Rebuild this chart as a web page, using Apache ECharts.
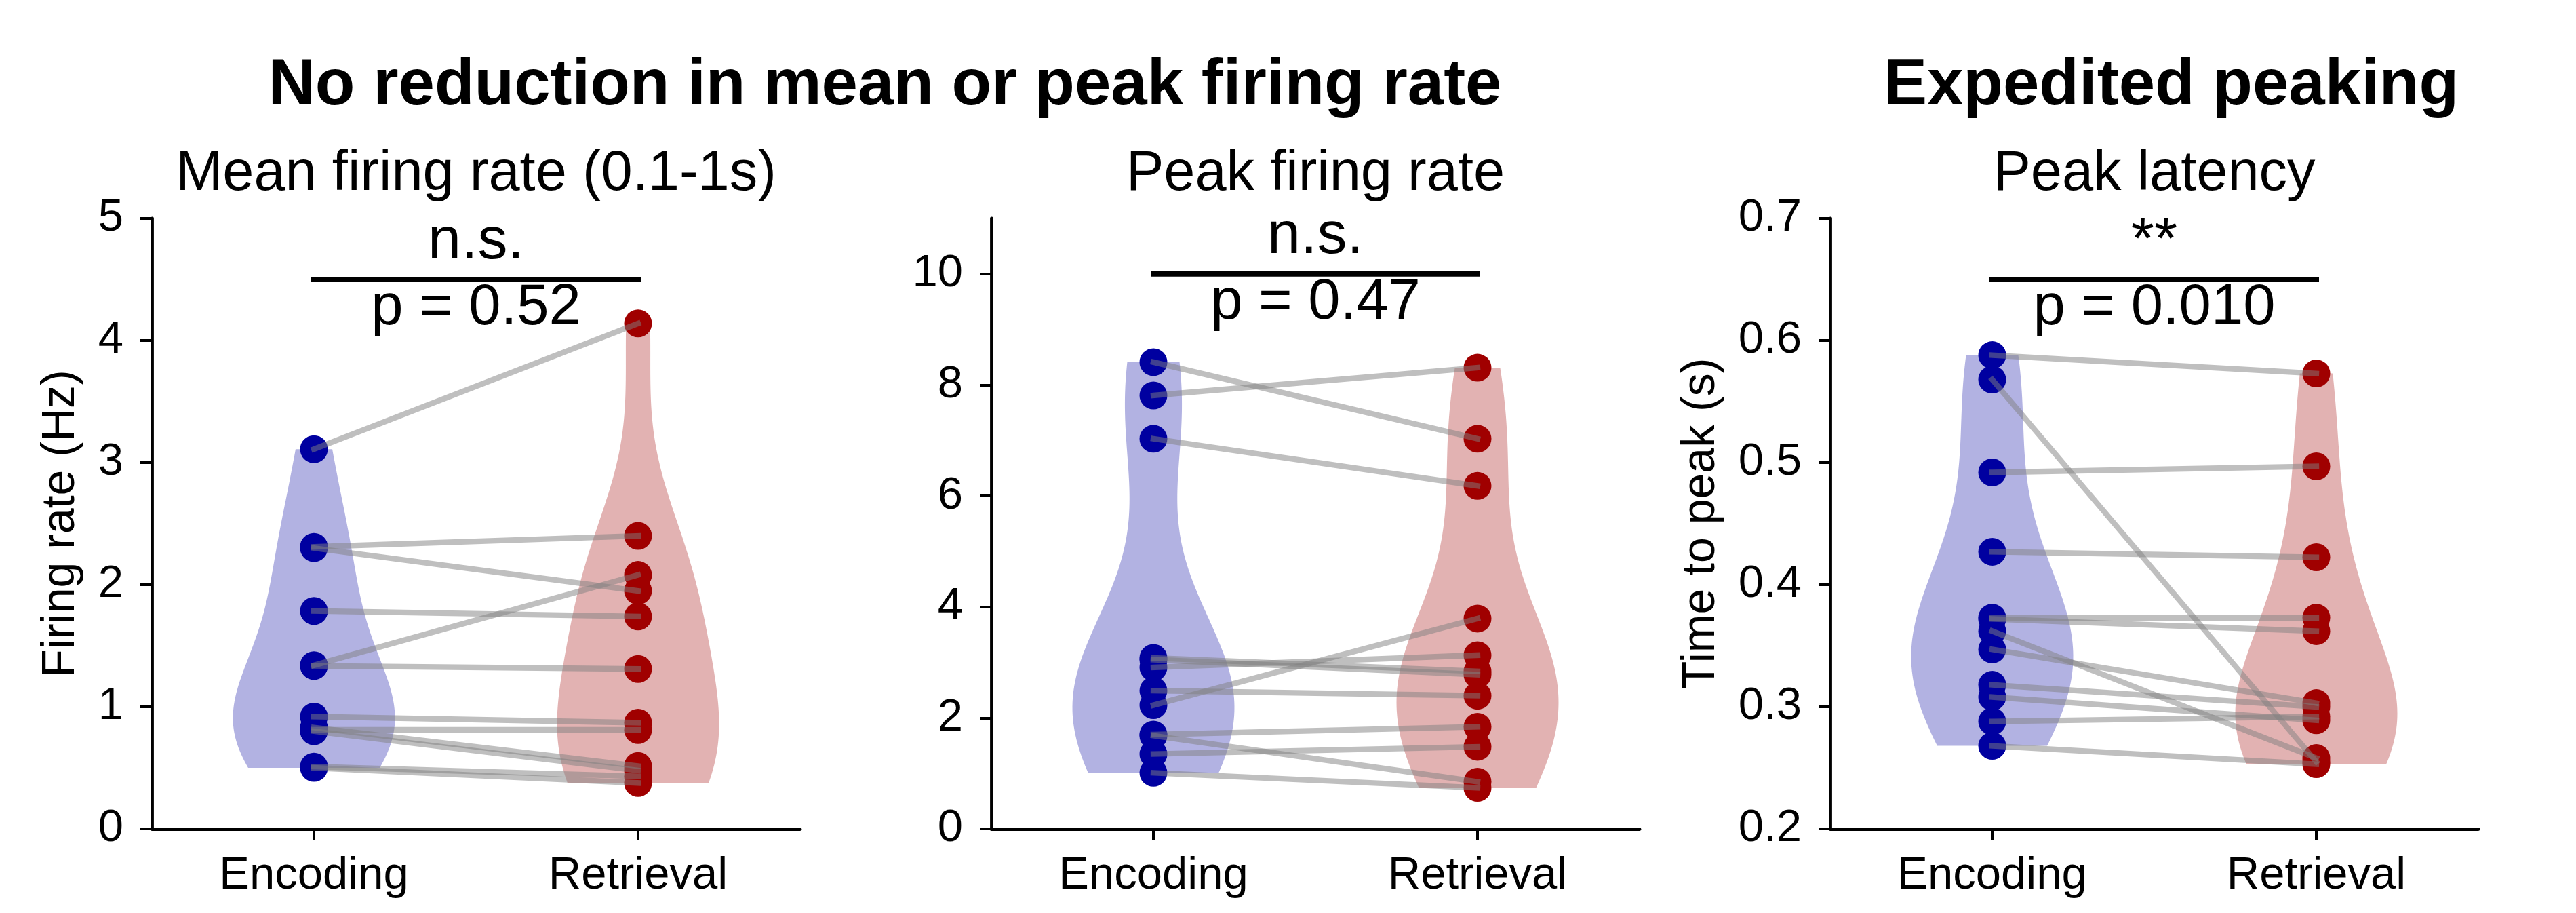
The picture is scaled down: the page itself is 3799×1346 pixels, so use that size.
<!DOCTYPE html>
<html><head><meta charset="utf-8">
<script src="https://cdn.jsdelivr.net/npm/echarts@6/dist/echarts.min.js"></script>
<style>html,body{margin:0;padding:0;background:#fff}#c{width:3799px;height:1346px}</style>
</head><body><div id="c"></div>
<script>
// ---------------- data ----------------
const categories = ['Encoding', 'Retrieval'];
const groupTitles = ['No reduction in mean or peak firing rate', 'Expedited peaking'];
const panelTitles = ['Mean firing rate (0.1-1s)', 'Peak firing rate', 'Peak latency'];
const yAxisNames = ['Firing rate (Hz)', '', 'Time to peak (s)'];

const meanEncoding  = [3.11, 2.31, 2.30, 1.785, 1.34, 1.335, 0.92, 0.81, 0.83, 0.80, 0.51, 0.50];
const meanRetrieval = [4.14, 2.40, 1.95, 1.74, 2.08, 1.31, 0.87, 0.81, 0.515, 0.478, 0.431, 0.376];

const peakEncoding  = [8.41, 7.81, 7.03, 3.08, 3.05, 2.91, 2.49, 2.23, 1.70, 1.68, 1.35, 1.01];
const peakRetrieval = [7.03, 8.31, 6.18, 2.84, 2.78, 3.13, 2.40, 3.79, 1.84, 0.85, 1.48, 0.74];

const latencyEncoding  = [0.588, 0.568, 0.492, 0.427, 0.373, 0.372, 0.362, 0.347, 0.318, 0.308, 0.288, 0.268];
const latencyRetrieval = [0.573, 0.255, 0.497, 0.4225, 0.373, 0.362, 0.258, 0.303, 0.300, 0.289, 0.292, 0.253];

const yTicksMean = [0, 1, 2, 3, 4, 5];
const yTicksPeak = [0, 2, 4, 6, 8, 10];
const yTicksLatency = [0.2, 0.3, 0.4, 0.5, 0.6, 0.7];

const sigMarks = ['n.s.', 'n.s.', '**'];
const pTexts = ['p = 0.52', 'p = 0.47', 'p = 0.010'];
const bracketLevels = [4.5, 10, 0.65];

// ---------------- helpers ----------------
const FONT = '"Liberation Sans", Arial, sans-serif';
const encColor = '#0000a0', retColor = '#a00000';
const encFill = 'rgba(0,0,160,0.3)', retFill = 'rgba(160,0,0,0.3)';

// gaussian KDE (Scott's rule) of the data, as matplotlib's violinplot does
function violinProfile(vals, n) {
  const N = vals.length;
  const mean = vals.reduce((a, b) => a + b, 0) / N;
  const sd = Math.sqrt(vals.reduce((a, v) => a + (v - mean) * (v - mean), 0) / (N - 1));
  const bw = sd * Math.pow(N, -0.2);
  const lo = Math.min(...vals), hi = Math.max(...vals);
  const ys = [], ds = [];
  for (let i = 0; i < n; i++) {
    const y = lo + (hi - lo) * i / (n - 1);
    let d = 0;
    for (const v of vals) { const z = (y - v) / bw; d += Math.exp(-0.5 * z * z); }
    ys.push(y); ds.push(d);
  }
  const m = Math.max(...ds);
  return ys.map((y, i) => [y, 0.25 * ds[i] / m]);
}

const panels = [
  { enc: meanEncoding, ret: meanRetrieval, min: 0, max: 5, interval: 1, ticks: yTicksMean, fmt: v => String(v), left: 224, nameGap: 100 },
  { enc: peakEncoding, ret: peakRetrieval, min: 0, max: 11, interval: 2, ticks: yTicksPeak, fmt: v => String(v), left: 1462, nameGap: 100 },
  { enc: latencyEncoding, ret: latencyRetrieval, min: 0.2, max: 0.7, interval: 0.1, ticks: yTicksLatency, fmt: v => Number(v).toFixed(1), left: 2699, nameGap: 156 }
];

const GRID_TOP = 322, GRID_H = 900, GRID_W = 956;
const grid = [], xAxis = [], yAxis = [], series = [];

panels.forEach((p, i) => {
  grid.push({ left: p.left, top: GRID_TOP, width: GRID_W, height: GRID_H, containLabel: false });
  xAxis.push({
    type: 'value', gridIndex: i, min: -0.5, max: 1.5,
    splitLine: { show: false },
    axisLine: { show: true, onZero: false, lineStyle: { color: '#000', width: 4.8 } },
    axisTick: { show: true, customValues: [0, 1], length: 17, lineStyle: { color: '#000', width: 4 } },
    axisLabel: { show: true, customValues: [0, 1], formatter: v => categories[Math.round(v)] || '', margin: 36,
      fontSize: 67, fontFamily: FONT, color: '#000' }
  });
  yAxis.push({
    type: 'value', gridIndex: i, min: p.min, max: p.max, interval: p.interval,
    name: yAxisNames[i], nameLocation: 'middle', nameGap: p.nameGap,
    nameTextStyle: { fontSize: 68, fontFamily: FONT, color: '#000' },
    splitLine: { show: false },
    axisLine: { show: true, onZero: false, lineStyle: { color: '#000', width: 4.8 } },
    axisTick: { show: true, customValues: p.ticks, length: 17, lineStyle: { color: '#000', width: 4 } },
    axisLabel: { show: true, customValues: p.ticks, formatter: p.fmt, margin: 42,
      fontSize: 67, fontFamily: FONT, color: '#000' }
  });

  const profiles = [violinProfile(p.enc, 100), violinProfile(p.ret, 100)];
  const fills = [encFill, retFill];
  series.push({
    type: 'custom', xAxisIndex: i, yAxisIndex: i, z: 1, silent: true,
    data: [[0, p.enc[0]], [1, p.ret[0]]],
    encode: { x: 0, y: 1 },
    renderItem: (params, api) => {
      const k = params.dataIndex;
      const xc = api.value(0);
      const prof = profiles[k];
      const left = prof.map(([y, w]) => api.coord([xc - w, y]));
      const right = prof.slice().reverse().map(([y, w]) => api.coord([xc + w, y]));
      return { type: 'polygon', shape: { points: left.concat(right) }, style: { fill: fills[k] } };
    }
  });
  series.push({
    type: 'scatter', xAxisIndex: i, yAxisIndex: i, z: 2, symbolSize: 41,
    itemStyle: { color: encColor, opacity: 1 },
    data: p.enc.map(v => [0, v])
  });
  series.push({
    type: 'scatter', xAxisIndex: i, yAxisIndex: i, z: 2, symbolSize: 41,
    itemStyle: { color: retColor, opacity: 1 },
    data: p.ret.map(v => [1, v])
  });
  series.push({
    type: 'lines', coordinateSystem: 'cartesian2d', xAxisIndex: i, yAxisIndex: i, z: 3, silent: true,
    lineStyle: { color: '#808080', opacity: 0.5, width: 8.3, cap: 'square' },
    data: p.enc.map((v, k) => ({ coords: [[0, v], [1, p.ret[k]]] }))
  });
  series.push({
    type: 'custom', xAxisIndex: i, yAxisIndex: i, z: 4, silent: true, clip: false,
    data: [[0.5, bracketLevels[i]]],
    encode: { x: 0, y: 1 },
    renderItem: (params, api) => {
      const lvl = api.value(1);
      const a = api.coord([0, lvl]), b = api.coord([1, lvl]), c = api.coord([0.5, lvl]);
      return {
        type: 'group',
        children: [
          { type: 'line', shape: { x1: a[0], y1: a[1], x2: b[0], y2: b[1] }, style: { stroke: '#000', lineWidth: 8, lineCap: 'square' } },
          { type: 'text', style: { text: sigMarks[i], x: c[0], y: c[1] - 55, align: 'center', verticalAlign: 'middle', font: '88px ' + FONT, fill: '#000' } },
          { type: 'text', style: { text: pTexts[i], x: c[0], y: c[1] + 43, align: 'center', verticalAlign: 'middle', font: '85px ' + FONT, fill: '#000' } }
        ]
      };
    }
  });
});

const graphic = [
  { type: 'text', style: { text: groupTitles[0], x: 1305, y: 128, align: 'center', verticalAlign: 'middle', font: 'bold 96px ' + FONT, fill: '#000' } },
  { type: 'text', style: { text: groupTitles[1], x: 3202, y: 128, align: 'center', verticalAlign: 'middle', font: 'bold 96px ' + FONT, fill: '#000' } }
];
panels.forEach((p, i) => {
  graphic.push({ type: 'text', style: { text: panelTitles[i], x: p.left + GRID_W / 2, y: 257, align: 'center', verticalAlign: 'middle', font: '83px ' + FONT, fill: '#000' } });
});

const chart = echarts.init(document.getElementById('c'), null, { renderer: 'canvas' });
chart.setOption({
  backgroundColor: '#fff',
  animation: false,
  grid, xAxis, yAxis, series, graphic
});
</script></body></html>
